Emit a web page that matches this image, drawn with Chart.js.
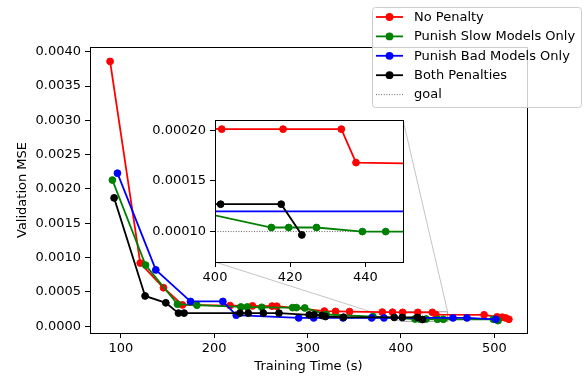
<!DOCTYPE html>
<html><head><meta charset="utf-8">
<script src="https://cdn.jsdelivr.net/npm/chart.js@4.4.0/dist/chart.umd.min.js"></script>
<style>
html,body{margin:0;padding:0;background:#fff;}
#wrap{position:relative;width:587px;height:377px;}
canvas{position:absolute;left:0;top:0;}
</style></head><body>
<div id="wrap"><canvas id="main" width="587" height="377"></canvas><canvas id="inset" width="587" height="377"></canvas></div>
<script>
// ---- data ----
const seriesNames = ['No Penalty', 'Punish Slow Models Only', 'Punish Bad Models Only', 'Both Penalties'];
const seriesColors = ['#ff0000', '#008000', '#0000ff', '#000000'];

const noPenaltyX = [88.5, 120.8, 145.7, 166, 217, 241, 262, 267, 318, 330, 345, 380, 391, 401.8, 418.1, 433.6, 437.5, 489, 503, 508.5, 512, 515.6];
const noPenaltyY = [0.00386, 0.00092, 0.00056, 0.00031, 0.00030, 0.000295, 0.000292, 0.00029, 0.00022, 0.000215, 0.000212, 0.000205, 0.000203, 0.000201, 0.000201, 0.000201, 0.000168, 0.000165, 0.000135, 0.00013, 0.00012, 0.0001];

const slowOnlyX = [91, 126.5, 160.7, 181.5, 228.6, 235.5, 251, 284, 288, 297, 320, 370, 415, 419.6, 427, 439.2, 445.4, 499, 504];
const slowOnlyY = [0.00213, 0.00089, 0.00032, 0.000305, 0.00028, 0.00028, 0.000275, 0.00027, 0.00027, 0.000265, 0.00017, 0.00014, 0.000104, 0.000104, 0.000104, 0.0001, 0.0001, 0.0001, 0.00008];

const badOnlyX = [96.4, 137.5, 174.6, 209.3, 223.6, 290.5, 306.6, 338, 368.6, 381.8, 455.7, 470.7, 501.7];
const badOnlyY = [0.00223, 0.00082, 0.00036, 0.00036, 0.00016, 0.00012, 0.00012, 0.00012, 0.00012, 0.00012, 0.00012, 0.00012, 0.0001];

const bothX = [92.8, 126, 148.2, 161.7, 167.8, 227.6, 236.5, 252.6, 269.4, 301.7, 307, 315.6, 319.1, 338.5, 392.8, 401.5, 417.6, 423.1];
const bothY = [0.00187, 0.00044, 0.00034, 0.00019, 0.00019, 0.00019, 0.00019, 0.00019, 0.00019, 0.000165, 0.000165, 0.000155, 0.00014, 0.00013, 0.000127, 0.000127, 0.000127, 0.0000967];

const goalValue = 0.0001;

// axis limits & ticks
const mainXLim = [67, 535];
const mainYLim = [-0.0001, 0.00407];
const mainXTicks = [100, 200, 300, 400, 500];
const mainYTicks = [0, 0.0005, 0.001, 0.0015, 0.002, 0.0025, 0.003, 0.0035, 0.004];
const insetXLim = [400, 450];
const insetYLim = [0.00007, 0.00021];
const insetXTicks = [400, 420, 440];
const insetYTicks = [0.0001, 0.00015, 0.0002];

// ---- build datasets ----
const seriesX = [noPenaltyX, slowOnlyX, badOnlyX, bothX];
const seriesY = [noPenaltyY, slowOnlyY, badOnlyY, bothY];

function makeDatasets(xLim, withGoal) {
  const ds = seriesNames.map((name, i) => ({
    label: name,
    data: seriesX[i].map((x, j) => ({x: x, y: seriesY[i][j]})),
    borderColor: seriesColors[i],
    backgroundColor: seriesColors[i],
    pointBackgroundColor: seriesColors[i],
    pointBorderColor: seriesColors[i],
    borderWidth: 1.8,
    pointRadius: 3.4,
    pointBorderWidth: 1,
    tension: 0,
    showLine: true,
    order: 3 - i
  }));
  if (withGoal) {
    ds.push({
      label: 'goal',
      data: [{x: xLim[0], y: goalValue}, {x: xLim[1], y: goalValue}],
      borderColor: '#555555',
      borderWidth: 0.9,
      borderDash: [1, 1.6],
      pointRadius: 0,
      showLine: true,
      order: 10
    });
  }
  return ds;
}

Chart.defaults.font.family = "'DejaVu Sans', sans-serif";
Chart.defaults.font.size = 13;
Chart.defaults.color = '#000';

function tickGrid() {
  return {display: true, drawOnChartArea: false, drawTicks: true, tickLength: 5, color: '#000', lineWidth: 1};
}

// ---- inset chart (top layer) ----
const legendPlugin = {
  id: 'customLegend',
  afterDraw(chart) {
    const ctx = chart.ctx;
    const x0 = 372, y0 = 7, w = 209, h = 100, r = 3;
    ctx.save();
    ctx.beginPath();
    ctx.roundRect(x0 + 0.5, y0 + 0.5, w, h, r);
    ctx.fillStyle = 'rgba(255,255,255,0.8)';
    ctx.fill();
    ctx.strokeStyle = '#cccccc';
    ctx.lineWidth = 1;
    ctx.stroke();
    const labels = seriesNames.concat(['goal']);
    ctx.font = "13px 'DejaVu Sans', sans-serif";
    ctx.textBaseline = 'middle';
    ctx.textAlign = 'left';
    labels.forEach((lab, i) => {
      const yy = 17 + i * 19.4;
      if (i < 4) {
        ctx.strokeStyle = seriesColors[i];
        ctx.lineWidth = 1.8;
        ctx.setLineDash([]);
        ctx.beginPath(); ctx.moveTo(376, yy); ctx.lineTo(403, yy); ctx.stroke();
        ctx.fillStyle = seriesColors[i];
        ctx.beginPath(); ctx.arc(389.5, yy, 3.9, 0, Math.PI * 2); ctx.fill();
      } else {
        ctx.strokeStyle = '#555555';
        ctx.lineWidth = 0.9;
        ctx.setLineDash([1, 1.6]);
        ctx.beginPath(); ctx.moveTo(376, yy); ctx.lineTo(403, yy); ctx.stroke();
        ctx.setLineDash([]);
      }
      ctx.fillStyle = '#000';
      ctx.fillText(lab, 414, yy + 0.5);
    });
    ctx.restore();
  }
};

const insetBg = {
  id: 'insetBg',
  beforeDatasetsDraw(chart) {
    const a = chart.chartArea, ctx = chart.ctx;
    ctx.save(); ctx.fillStyle = '#fff'; ctx.fillRect(a.left, a.top, a.right - a.left, a.bottom - a.top); ctx.restore();
  },
  afterDatasetsDraw(chart) {
    const a = chart.chartArea, ctx = chart.ctx;
    ctx.save(); ctx.strokeStyle = '#000'; ctx.lineWidth = 1;
    ctx.strokeRect(Math.round(a.left) + 0.5, Math.round(a.top) + 0.5, Math.round(a.right - a.left), Math.round(a.bottom - a.top));
    ctx.restore();
  }
};

const insetChart = new Chart(document.getElementById('inset').getContext('2d'), {
  type: 'line',
  data: {datasets: makeDatasets(insetXLim, true)},
  options: {
    responsive: false, animation: false, devicePixelRatio: 1,
    layout: {padding: {left: 135, top: 120, right: 184, bottom: 90}},
    plugins: {legend: {display: false}, tooltip: {enabled: false}},
    scales: {
      x: {type: 'linear', min: insetXLim[0], max: insetXLim[1],
        afterBuildTicks: s => { s.ticks = insetXTicks.map(v => ({value: v})); },
        ticks: {callback: v => String(v), padding: 3, maxRotation: 0, autoSkip: false},
        grid: tickGrid(), border: {display: false},
        afterFit: s => { s.height = 25; }},
      y: {type: 'linear', min: insetYLim[0], max: insetYLim[1],
        afterBuildTicks: s => { s.ticks = insetYTicks.map(v => ({value: v})); },
        ticks: {callback: v => Number(v).toFixed(5), padding: 4, autoSkip: false},
        grid: tickGrid(), border: {display: false},
        afterFit: s => { s.width = 80; }}
    }
  },
  plugins: [insetBg, legendPlugin]
});

// ---- main chart ----
const mainDecor = {
  id: 'mainDecor',
  beforeDatasetsDraw(chart) {
    const ctx = chart.ctx, xs = chart.scales.x, ys = chart.scales.y;
    const rx0 = xs.getPixelForValue(insetXLim[0]), rx1 = xs.getPixelForValue(insetXLim[1]);
    const ry0 = ys.getPixelForValue(insetYLim[0]), ry1 = ys.getPixelForValue(insetYLim[1]);
    const ia = insetChart.chartArea;
    ctx.save();
    ctx.strokeStyle = '#a0a0a0';
    ctx.lineWidth = 1;
    ctx.strokeRect(rx0, ry1, rx1 - rx0, ry0 - ry1);
    ctx.strokeStyle = '#c4c4c4';
    ctx.beginPath();
    ctx.moveTo(ia.left, ia.bottom); ctx.lineTo(rx0, ry0);
    ctx.moveTo(ia.right, ia.top); ctx.lineTo(rx1, ry1);
    ctx.stroke();
    ctx.restore();
  },
  afterDatasetsDraw(chart) {
    const a = chart.chartArea, ctx = chart.ctx;
    ctx.save(); ctx.strokeStyle = '#000'; ctx.lineWidth = 1;
    ctx.strokeRect(Math.round(a.left) + 0.5, Math.round(a.top) + 0.5, Math.round(a.right - a.left), Math.round(a.bottom - a.top));
    ctx.restore();
  }
};

new Chart(document.getElementById('main').getContext('2d'), {
  type: 'line',
  data: {datasets: makeDatasets(mainXLim, false)},
  options: {
    responsive: false, animation: false, devicePixelRatio: 1,
    layout: {padding: {left: 0, top: 47, right: 60, bottom: 0}},
    plugins: {legend: {display: false}, tooltip: {enabled: false}},
    scales: {
      x: {type: 'linear', min: mainXLim[0], max: mainXLim[1],
        afterBuildTicks: s => { s.ticks = mainXTicks.map(v => ({value: v})); },
        ticks: {callback: v => String(v), padding: 3, maxRotation: 0, autoSkip: false},
        grid: tickGrid(), border: {display: false},
        title: {display: true, text: 'Training Time (s)', padding: {top: 0, bottom: 3}},
        afterFit: s => { s.height = 44; }},
      y: {type: 'linear', min: mainYLim[0], max: mainYLim[1],
        afterBuildTicks: s => { s.ticks = mainYTicks.map(v => ({value: v})); },
        ticks: {callback: v => Number(v).toFixed(4), padding: 4, autoSkip: false},
        grid: tickGrid(), border: {display: false},
        title: {display: true, text: 'Validation MSE', padding: {top: 15, bottom: 0}},
        afterFit: s => { s.width = 90; }}
    }
  },
  plugins: [mainDecor]
});
</script>
</body></html>
